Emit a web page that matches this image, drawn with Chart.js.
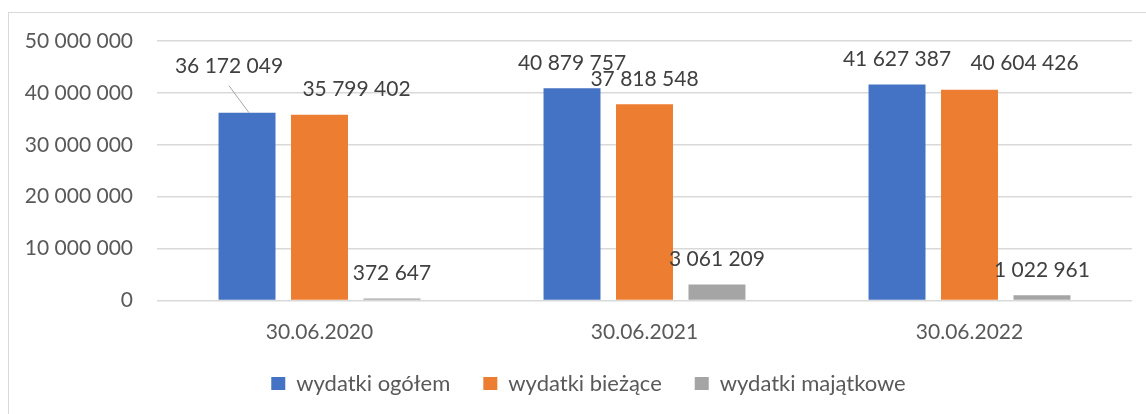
<!DOCTYPE html>
<html>
<head>
<meta charset="utf-8">
<script src="https://cdn.jsdelivr.net/npm/chart.js@4"></script>
<style>
  html, body { margin: 0; padding: 0; background: #fff; overflow: hidden; }
  #frame { position: absolute; left: 8px; top: 12px; width: 1200px; height: 500px; border: 1px solid #d9d9d9; }
  #chart { position: absolute; left: 0; top: 0; }
</style>
</head>
<body>
<div id="frame"></div>
<canvas id="chart" width="1146" height="414"></canvas>
<script>
// dane
const categories = ["30.06.2020", "30.06.2021", "30.06.2022"];
const seriesNames = ["wydatki ogółem", "wydatki bieżące", "wydatki majątkowe"];
const totalSpend   = [36172049, 40879757, 41627387];
const currentSpend = [35799402, 37818548, 40604426];
const assetSpend   = [372647, 3061209, 1022961];
const yTicks = [0, 10000000, 20000000, 30000000, 40000000, 50000000];

const colors = ["#4472C4", "#ED7D31", "#A5A5A5"];
const FONT = "Lato, 'Open Sans', sans-serif";
const TEXT = "#595959";

// przesunięcia etykiet (przesunięte ręcznie w oryginale) [dataset][index] -> [dx, dy]
const labelShift = [
  [[-18, -22], [0, 0], [0, 0]],
  [[37, 0], [0, 0], [55, -2]],
  [[0, 0], [0, 0], [0, 0]]
];

function fmt(v) {
  return String(v).replace(/\B(?=(\d{3})+(?!\d))/g, " ");
}

// etykiety danych nad słupkami
const valueLabels = {
  id: "valueLabels",
  afterLayout(chart) {
    // legenda w oryginale jest lekko przesunięta w prawo
    if (chart.legend) {
      chart.legend.left += 22.5;
      chart.legend.right += 22.5;
    }
  },
  afterDatasetsDraw(chart) {
    const ctx = chart.ctx;
    ctx.save();
    ctx.font = "21px " + FONT;
    ctx.fillStyle = "#404040";
    ctx.textAlign = "center";
    ctx.textBaseline = "middle";
    chart.data.datasets.forEach((ds, di) => {
      chart.getDatasetMeta(di).data.forEach((bar, i) => {
        const [dx, dy] = labelShift[di][i];
        const x = bar.x + dx;
        const y = bar.y - 25 + dy;
        if (dy < -10) {
          // linia odniesienia
          ctx.strokeStyle = "#a6a6a6";
          ctx.lineWidth = 1;
          ctx.beginPath();
          ctx.moveTo(x, y + 20);
          ctx.lineTo(bar.x + 2, bar.y);
          ctx.stroke();
        }
        ctx.fillText(fmt(ds.data[i]), x, y);
      });
    });
    ctx.restore();
  }
};

new Chart(document.getElementById("chart"), {
  type: "bar",
  data: {
    labels: categories,
    datasets: [
      { label: seriesNames[0], data: totalSpend,   backgroundColor: colors[0] },
      { label: seriesNames[1], data: currentSpend, backgroundColor: colors[1] },
      { label: seriesNames[2], data: assetSpend,   backgroundColor: colors[2] }
    ]
  },
  options: {
    responsive: false,
    animation: false,
    devicePixelRatio: 1,
    layout: { padding: { top: 41, right: 14, bottom: 9.5, left: 0 } },
    datasets: {
      bar: { categoryPercentage: 0.669, barPercentage: 0.786 }
    },
    scales: {
      x: {
        grid: { display: false, drawTicks: false },
        border: { display: false },
        ticks: { color: TEXT, font: { family: FONT, size: 21 }, padding: 19 },
        afterFit(scale) { scale.height = 39; }
      },
      y: {
        min: 0,
        max: 50000000,
        afterBuildTicks(scale) { scale.ticks = yTicks.map(v => ({ value: v })); },
        grid: { color: "#d9d9d9", lineWidth: 1.5, drawTicks: false },
        border: { display: false },
        ticks: { color: TEXT, font: { family: FONT, size: 21 }, padding: 24, callback: v => fmt(v) },
        afterFit(scale) { scale.width = 157; }
      }
    },
    plugins: {
      legend: {
        position: "bottom",
        labels: {
          color: TEXT,
          font: { family: FONT, size: 22 },
          boxWidth: 14,
          boxHeight: 13,
          padding: 33
        }
      },
      tooltip: { enabled: false }
    }
  },
  plugins: [valueLabels]
});
</script>
</body>
</html>
